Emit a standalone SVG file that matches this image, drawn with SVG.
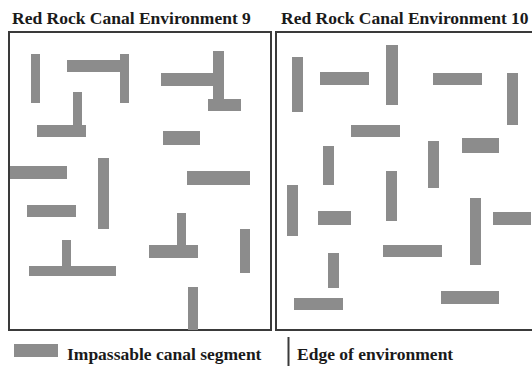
<svg xmlns="http://www.w3.org/2000/svg" width="532" height="366" viewBox="0 0 532 366">
  <style>
    .t { font-family: "Liberation Serif", "Times New Roman", serif; font-weight: bold; font-size: 17.5px; fill: #1a1a1a; }
    .seg { fill: #8c8c8c; }
    .frame { fill: none; stroke: #3a3a3a; stroke-width: 2; }
  </style>
  <rect width="532" height="366" fill="#ffffff"/>

  <g id="env9">
    <text class="t" x="12" y="24">Red Rock Canal Environment 9</text>
    <rect class="frame" x="9" y="32" width="262" height="298"/>
    <g id="env9-segments">
      <rect class="seg" x="31" y="54" width="9" height="49"/>
      <rect class="seg" x="67" y="60" width="56" height="12"/>
      <rect class="seg" x="120" y="54" width="9" height="49"/>
      <rect class="seg" x="73" y="92" width="9" height="35"/>
      <rect class="seg" x="37" y="125" width="49" height="12"/>
      <rect class="seg" x="161" y="73" width="52" height="13"/>
      <rect class="seg" x="213" y="51" width="11" height="59"/>
      <rect class="seg" x="208" y="99" width="33" height="12"/>
      <rect class="seg" x="163" y="131" width="37" height="14"/>
      <rect class="seg" x="10" y="166" width="57" height="13"/>
      <rect class="seg" x="98" y="158" width="11" height="71"/>
      <rect class="seg" x="187" y="171" width="63" height="14"/>
      <rect class="seg" x="27" y="205" width="49" height="12"/>
      <rect class="seg" x="62" y="240" width="9" height="27"/>
      <rect class="seg" x="29" y="266" width="87" height="10"/>
      <rect class="seg" x="177" y="213" width="9" height="33"/>
      <rect class="seg" x="149" y="245" width="49" height="13"/>
      <rect class="seg" x="240" y="229" width="10" height="44"/>
      <rect class="seg" x="188" y="287" width="10" height="43"/>
    </g>
  </g>

  <g id="env10">
    <text class="t" x="281" y="24">Red Rock Canal Environment 10</text>
    <rect class="frame" x="276" y="32" width="270" height="298"/>
    <g id="env10-segments">
      <rect class="seg" x="292" y="57" width="11" height="55"/>
      <rect class="seg" x="320" y="72" width="49" height="13"/>
      <rect class="seg" x="386" y="45" width="12" height="60"/>
      <rect class="seg" x="433" y="73" width="49" height="12"/>
      <rect class="seg" x="507" y="73" width="11" height="52"/>
      <rect class="seg" x="351" y="125" width="49" height="12"/>
      <rect class="seg" x="462" y="138" width="37" height="15"/>
      <rect class="seg" x="323" y="146" width="11" height="39"/>
      <rect class="seg" x="386" y="171" width="11" height="50"/>
      <rect class="seg" x="428" y="141" width="11" height="47"/>
      <rect class="seg" x="287" y="185" width="11" height="51"/>
      <rect class="seg" x="318" y="211" width="33" height="14"/>
      <rect class="seg" x="470" y="198" width="11" height="67"/>
      <rect class="seg" x="493" y="212" width="38" height="13"/>
      <rect class="seg" x="383" y="245" width="59" height="12"/>
      <rect class="seg" x="328" y="253" width="11" height="35"/>
      <rect class="seg" x="294" y="298" width="49" height="12"/>
      <rect class="seg" x="441" y="291" width="58" height="13"/>
    </g>
  </g>

  <g id="legend">
    <g id="legend-segment">
      <rect class="seg" x="14" y="344" width="44" height="13"/>
      <text class="t" x="67" y="360">Impassable canal segment</text>
    </g>
    <g id="legend-edge">
      <line x1="288.5" y1="337" x2="288.5" y2="366" stroke="#3a3a3a" stroke-width="2"/>
      <text class="t" x="297" y="360">Edge of environment</text>
    </g>
  </g>
</svg>
